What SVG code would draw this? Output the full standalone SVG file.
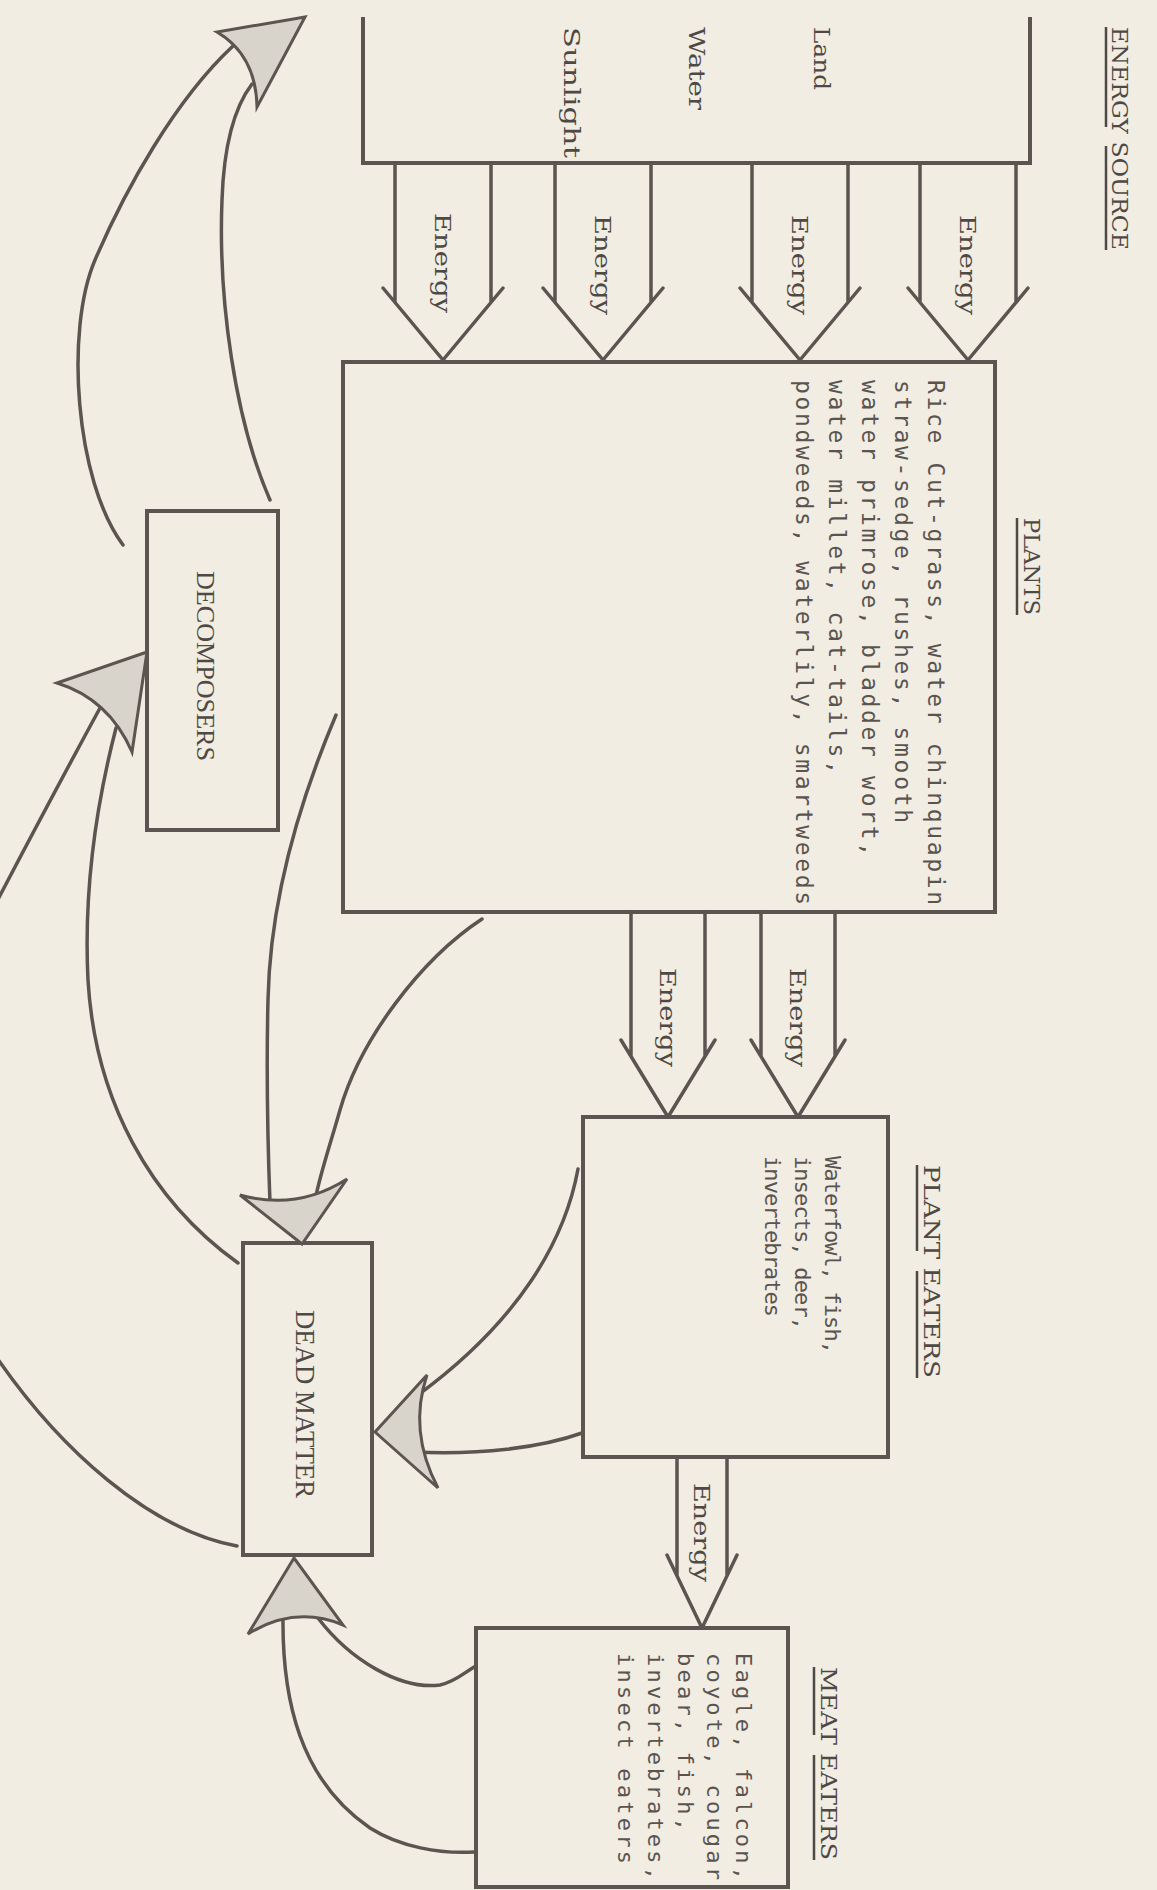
<svg xmlns="http://www.w3.org/2000/svg" width="1157" height="1890" viewBox="0 0 1157 1890">
<style>
.ln{fill:none;stroke:#5b5450;stroke-width:3.5;stroke-linecap:round;stroke-linejoin:round}
.box{fill:none;stroke:#5b5450;stroke-width:4}
.ah{fill:#d8d4cb;stroke:#5b5450;stroke-width:3;stroke-linejoin:miter}
.hd{font-family:"DejaVu Serif","Liberation Serif",serif;fill:#4f4946}
.bd{font-family:"DejaVu Sans Mono","Liberation Mono",monospace;fill:#5a5451}
.bx{font-family:"Liberation Serif","DejaVu Serif",serif;fill:#4f4946}
.ul{stroke:#4f4946;stroke-width:2.5}
</style>
<rect width="1157" height="1890" fill="#f1ede2"/>

<g id="energy-source">
<path class="box" d="M363,17 V163 H1030 V17"/>
<text class="hd" font-size="22" textLength="223" lengthAdjust="spacingAndGlyphs" transform="translate(1112,27) rotate(90)">ENERGY SOURCE</text>
<line class="ul" x1="1106" y1="27" x2="1106" y2="127"/>
<line class="ul" x1="1106" y1="146" x2="1106" y2="250"/>
<text class="hd" font-size="22" textLength="63" lengthAdjust="spacingAndGlyphs" transform="translate(814,27) rotate(90)">Land</text>
<text class="hd" font-size="22" textLength="83" lengthAdjust="spacingAndGlyphs" transform="translate(689,27) rotate(90)">Water</text>
<text class="hd" font-size="22" textLength="131" lengthAdjust="spacingAndGlyphs" transform="translate(564,27) rotate(90)">Sunlight</text>
</g>

<g id="plants">
<rect class="box" x="343" y="362" width="652" height="550"/>
<text class="hd" font-size="22" textLength="97" lengthAdjust="spacingAndGlyphs" transform="translate(1024,518) rotate(90)">PLANTS</text>
<line class="ul" x1="1017" y1="518" x2="1017" y2="615"/>
<text class="bd" font-size="23" textLength="525" lengthAdjust="spacing" transform="translate(928,380) rotate(90)">Rice Cut-grass, water chinquapin</text>
<text class="bd" font-size="23" textLength="443" lengthAdjust="spacing" transform="translate(895,380) rotate(90)">straw-sedge, rushes, smooth</text>
<text class="bd" font-size="23" textLength="476" lengthAdjust="spacing" transform="translate(862,380) rotate(90)">water primrose, bladder wort,</text>
<text class="bd" font-size="23" textLength="394" lengthAdjust="spacing" transform="translate(829,380) rotate(90)">water millet, cat-tails,</text>
<text class="bd" font-size="23" textLength="525" lengthAdjust="spacing" transform="translate(796,380) rotate(90)">pondweeds, waterlily, smartweeds</text>
</g>

<g id="plant-eaters">
<rect class="box" x="583" y="1117" width="305" height="340"/>
<text class="hd" font-size="22" textLength="213" lengthAdjust="spacingAndGlyphs" transform="translate(924,1165) rotate(90)">PLANT EATERS</text>
<line class="ul" x1="917" y1="1165" x2="917" y2="1251"/>
<line class="ul" x1="917" y1="1271" x2="917" y2="1378"/>
<text class="bd" font-size="22" textLength="198" lengthAdjust="spacing" transform="translate(825,1156) rotate(90)">Waterfowl, fish,</text>
<text class="bd" font-size="22" textLength="174" lengthAdjust="spacing" transform="translate(795,1156) rotate(90)">insects, deer,</text>
<text class="bd" font-size="22" textLength="161" lengthAdjust="spacing" transform="translate(765,1156) rotate(90)">invertebrates</text>
</g>

<g id="meat-eaters">
<rect class="box" x="476" y="1628" width="312" height="259"/>
<text class="hd" font-size="22" textLength="193" lengthAdjust="spacingAndGlyphs" transform="translate(821,1667) rotate(90)">MEAT EATERS</text>
<line class="ul" x1="814" y1="1667" x2="814" y2="1735"/>
<line class="ul" x1="814" y1="1755" x2="814" y2="1860"/>
<text class="bd" font-size="22" textLength="227" lengthAdjust="spacing" transform="translate(736,1653) rotate(90)">Eagle, falcon,</text>
<text class="bd" font-size="22" textLength="227" lengthAdjust="spacing" transform="translate(707,1653) rotate(90)">coyote, cougar</text>
<text class="bd" font-size="22" textLength="178" lengthAdjust="spacing" transform="translate(678,1653) rotate(90)">bear, fish,</text>
<text class="bd" font-size="22" textLength="227" lengthAdjust="spacing" transform="translate(648,1653) rotate(90)">invertebrates,</text>
<text class="bd" font-size="22" textLength="211" lengthAdjust="spacing" transform="translate(618,1653) rotate(90)">insect eaters</text>
</g>

<g id="dead-matter">
<rect class="box" x="243" y="1243" width="129" height="312"/>
<text class="bx" font-size="27" textLength="188" lengthAdjust="spacingAndGlyphs" transform="translate(296,1310) rotate(90)">DEAD MATTER</text>
</g>

<g id="decomposers">
<rect class="box" x="147" y="511" width="131" height="319"/>
<text class="bx" font-size="25" textLength="190" lengthAdjust="spacingAndGlyphs" transform="translate(197,571) rotate(90)">DECOMPOSERS</text>
</g>

<g id="connectors">
<path class="ln" d="M920,163 V302 M1016,163 V302 M908,288 L968,360 L1028,288"/>
<text class="hd" font-size="22" textLength="100" lengthAdjust="spacingAndGlyphs" transform="translate(960,215) rotate(90)">Energy</text>
<path class="ln" d="M752,163 V302 M848,163 V302 M740,288 L800,360 L860,288"/>
<text class="hd" font-size="22" textLength="100" lengthAdjust="spacingAndGlyphs" transform="translate(792,215) rotate(90)">Energy</text>
<path class="ln" d="M555,163 V302 M651,163 V302 M543,288 L603,360 L663,288"/>
<text class="hd" font-size="22" textLength="100" lengthAdjust="spacingAndGlyphs" transform="translate(595,215) rotate(90)">Energy</text>
<path class="ln" d="M395,163 V302 M491,163 V302 M383,288 L443,360 L503,288"/>
<text class="hd" font-size="22" textLength="100" lengthAdjust="spacingAndGlyphs" transform="translate(435,213) rotate(90)">Energy</text>
<path class="ln" d="M631,912 V1056 M705,912 V1056 M621,1040 L668,1117 L715,1040"/>
<text class="hd" font-size="22" textLength="99" lengthAdjust="spacingAndGlyphs" transform="translate(660,968) rotate(90)">Energy</text>
<path class="ln" d="M761,912 V1056 M835,912 V1056 M751,1040 L798,1117 L845,1040"/>
<text class="hd" font-size="22" textLength="99" lengthAdjust="spacingAndGlyphs" transform="translate(790,968) rotate(90)">Energy</text>
<path class="ln" d="M677,1457 V1576 M727,1457 V1576 M667,1555 L702,1628 L737,1555"/>
<text class="hd" font-size="22" textLength="99" lengthAdjust="spacingAndGlyphs" transform="translate(694,1483) rotate(90)">Energy</text>

<path class="ln" d="M123,545 C75,480 65,330 95,260 C125,190 175,100 233,46"/>
<path class="ln" d="M270,500 C235,420 218,300 222,200 C224,140 236,105 252,84"/>
<path class="ln" d="M100,708 Q50,800 -5,905"/>
<path class="ln" d="M238,1263 C150,1200 95,1100 88,980 C83,880 100,790 116,728"/>
<path class="ln" d="M237,1546 C150,1530 60,1450 -5,1355"/>
<path class="ln" d="M336,715 C300,800 270,900 268,1000 C266,1080 268,1150 270,1203"/>
<path class="ln" d="M482,919 C420,960 360,1040 340,1110 C330,1145 320,1175 316,1196"/>
<path class="ln" d="M578,1169 C565,1240 520,1320 418,1395"/>
<path class="ln" d="M582,1433 C540,1448 480,1455 414,1452"/>
<path class="ln" d="M283,1616 C282,1700 300,1780 370,1828 C400,1847 440,1854 474,1852"/>
<path class="ln" d="M318,1618 C350,1660 400,1690 440,1685 C455,1682 465,1672 476,1666"/>

<path class="ah" d="M305,17 L217,32 Q256,55 257,107 Z"/>
<path class="ah" d="M147,652 L57,683 Q109,699 132,752 Z"/>
<path class="ah" d="M302,1244 L240,1195 Q297,1211 347,1179 Z"/>
<path class="ah" d="M375,1432 L427,1375 Q408,1431 438,1488 Z"/>
<path class="ah" d="M294,1558 L248,1634 Q295,1605 343,1625 Z"/>
</g>
</svg>
